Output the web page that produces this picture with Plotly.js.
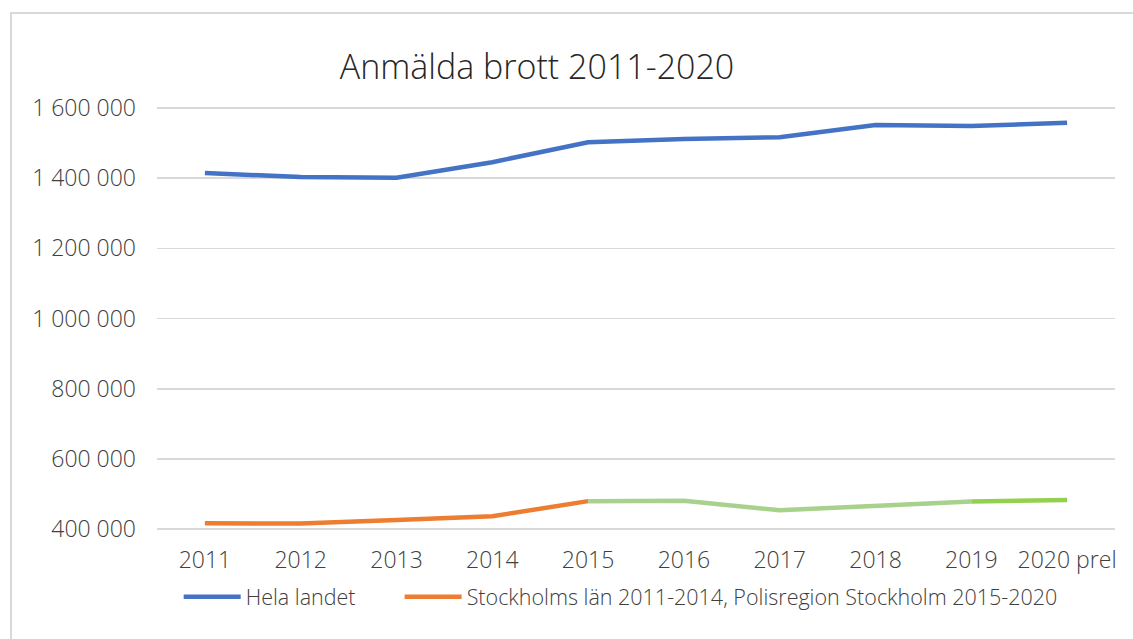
<!DOCTYPE html>
<html><head><meta charset="utf-8">
<script src="https://cdn.plot.ly/plotly-3.0.1.min.js"></script>
<style>
html,body{margin:0;padding:0;background:#fff;width:1133px;height:639px;overflow:hidden;}
#frame{position:absolute;left:10px;top:12px;width:1200px;height:700px;border-left:2px solid #d9d9d9;border-top:2px solid #d9d9d9;}
#chart{position:absolute;left:0;top:0;width:1133px;height:639px;}
</style></head>
<body>
<div id="frame"></div>
<div id="chart"></div>
<script>
const years = ["2011","2012","2013","2014","2015","2016","2017","2018","2019","2020 prel"];
const helaLandet = [1414000,1403000,1401000,1445000,1502000,1511000,1516000,1551000,1548000,1557000];
const stockholm = [417000,416000,426000,437000,480000,481000,454000,468000,479000,483000];
const seriesNames = ["Hela landet","Stockholms län 2011-2014, Polisregion Stockholm 2015-2020"];

const font = {family:"Open Sans, sans-serif", color:"#404040", weight:300};
const lw = 4.5;
const pad = "\u00a0".repeat(7);
const traces = [
  {x:years, y:helaLandet, name:seriesNames[0] + pad, mode:"lines", line:{color:"#4472C4", width:lw}},
  {x:years.slice(0,5), y:stockholm.slice(0,5), name:seriesNames[1], mode:"lines", line:{color:"#ED7D31", width:lw}},
  {x:years.slice(4,9), y:stockholm.slice(4,9), name:"seg2", showlegend:false, mode:"lines", line:{color:"#A9D18E", width:lw}},
  {x:years.slice(8,10), y:stockholm.slice(8,10), name:"seg3", showlegend:false, mode:"lines", line:{color:"#92D050", width:lw}}
];
const layout = {
  width:1133, height:639,
  paper_bgcolor:"rgba(0,0,0,0)", plot_bgcolor:"rgba(0,0,0,0)",
  separators:", ",
  margin:{l:157, r:18, t:106, b:108},
  title:{text:"Anmälda brott 2011-2020", font:{...font, size:34, color:"#262626"}, x:0.474, xanchor:"center", y:0.895, yanchor:"middle"},
  xaxis:{type:"category", range:[-0.5,9.5], showgrid:false, zeroline:false, showline:false, ticks:"", tickfont:{...font, size:23}, ticklabelstandoff:13},
  yaxis:{range:[395000,1605000], tickvals:[400000,600000,800000,1000000,1200000,1400000,1600000], tickformat:",d", gridcolor:"#d9d9d9", gridwidth:1.5, zeroline:false, showline:false, ticks:"", tickfont:{...font, size:23}, ticklabelstandoff:20},
  legend:{orientation:"h", x:0.484, xanchor:"center", y:-0.155, yanchor:"middle", font:{...font, size:21.5}, itemwidth:57, tracegroupgap:0},
  showlegend:true
};
Plotly.newPlot("chart", traces, layout, {displayModeBar:false, staticPlot:true});
</script>
</body></html>
